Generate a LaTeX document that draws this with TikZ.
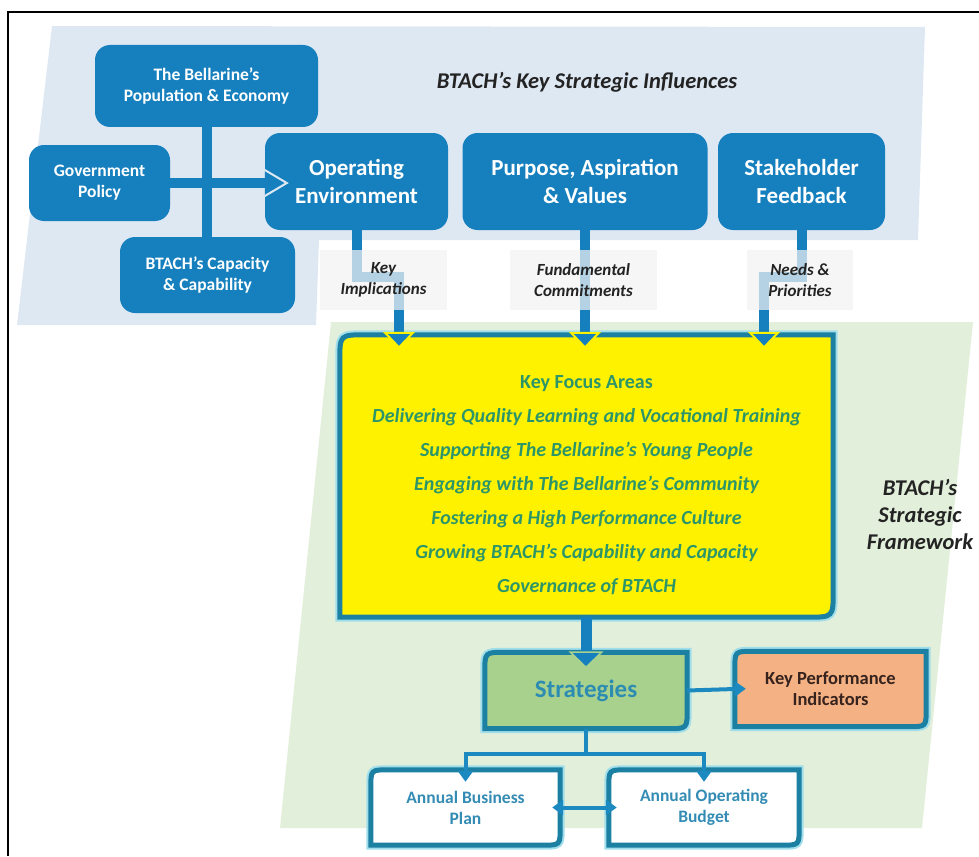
\documentclass[tikz,border=0pt]{standalone}
\usepackage{fontspec}
\setmainfont{Carlito}
\usetikzlibrary{arrows.meta,calc}
\definecolor{bbox}{RGB}{22,128,190}
\definecolor{bgblue}{RGB}{221,232,243}
\definecolor{bggreen}{RGB}{226,239,218}
\definecolor{labg}{RGB}{242,242,242}
\definecolor{labt}{RGB}{35,35,35}
\definecolor{teal}{RGB}{28,128,162}
\definecolor{halo}{RGB}{160,222,236}
\definecolor{ytext}{RGB}{45,150,105}
\definecolor{sfill}{RGB}{169,209,142}
\definecolor{stext}{RGB}{44,140,178}
\definecolor{kfill}{RGB}{244,177,131}
\definecolor{ktext}{RGB}{55,35,30}
\definecolor{btext}{RGB}{52,140,180}
\definecolor{tline}{RGB}{28,138,192}
\pgfdeclarelayer{back}
\pgfdeclarelayer{bg}
\pgfsetlayers{back,bg,main}
\newcommand\cutpath[3]{%
  \path[#2] ([yshift=-#3]#1.north west) .. controls (#1.north west) .. ([xshift=#3]#1.north west)
    -- (#1.north east) -- ([yshift=#3]#1.south east) .. controls (#1.south east) .. ([xshift=-#3]#1.south east)
    -- (#1.south west) -- cycle;}
\newcommand\cutbox[3]{%
  \begin{pgfonlayer}{bg}
  \cutpath{#1}{draw=halo,line width=9pt}{#3}
  \cutpath{#1}{fill=#2,draw=teal,line width=5pt}{#3}
  \end{pgfonlayer}}
\tikzset{
  bluebox/.style={fill=bbox, rounded corners=15pt, text=white, align=center, inner sep=0pt},
  lab/.style={fill=labg, fill opacity=0.72, text opacity=1, text=labt,
     font=\fontsize{17}{21}\selectfont\bfseries\itshape, align=center, inner sep=0pt, minimum height=60pt},
  bigarrow/.style={draw=bbox, line width=10pt,
     -{Triangle[length=17pt,width=32pt,color=yellow,fill=bbox,line width=2pt]}},
  thinline/.style={draw=tline, line width=4pt},
  thinarrow/.style={draw=tline, line width=4pt, -{Triangle[length=11pt,width=15pt]}},
  cutnode/.style={inner sep=0pt, align=center},
  heading/.style={text=labt, font=\fontsize{22.5}{27}\selectfont\bfseries\itshape, align=center}
}
\begin{document}
\begin{tikzpicture}[x=1pt,y=-1pt]
\useasboundingbox (0,0) rectangle (979,856);
% background regions
\begin{pgfonlayer}{back}
\fill[bgblue] (52,26) -- (925,27) -- (918,240) -- (319,240) -- (316,325) -- (17,325) -- cycle;
\fill[bggreen] (331,322) -- (973,322) -- (922,828) -- (280,828) -- cycle;
\draw[line width=2pt] (7.5,856) -- (7.5,12) -- (979,12);
\end{pgfonlayer}

% titles
\node[heading] (ttl) at (587,82) {BTACH’s Key Strategic Influences};
\node[heading] (fw) at (920,514) {BTACH’s\\Strategic\\Framework};

% blue influence boxes
\node[bluebox, minimum width=223pt, minimum height=82pt, font=\fontsize{17.5}{21}\selectfont\bfseries]
  (bel) at (206.5,86) {The Bellarine’s\\Population \& Economy};
\node[bluebox, minimum width=141pt, minimum height=76pt, font=\fontsize{17.5}{21}\selectfont\bfseries]
  (gov) at (99.5,183) {Government\\Policy};
\node[bluebox, minimum width=175pt, minimum height=76pt, font=\fontsize{17.5}{21}\selectfont\bfseries]
  (cap) at (207.5,275) {BTACH’s Capacity\\\& Capability};
\node[bluebox, minimum width=183pt, minimum height=97pt, font=\fontsize{23}{28}\selectfont\bfseries]
  (openv) at (356.5,181.5) {Operating\\Environment};
\node[bluebox, minimum width=245pt, minimum height=97pt, font=\fontsize{23}{28}\selectfont\bfseries]
  (purp) at (585,181.5) {Purpose, Aspiration\\\& Values};
\node[bluebox, minimum width=167pt, minimum height=97pt, font=\fontsize{23}{28}\selectfont\bfseries]
  (stake) at (801.5,181.5) {Stakeholder\\Feedback};

% influences wiring
\draw[draw=bbox, line width=10pt] (bel.south) -- (cap.north -| bel.south);
\coordinate (gh) at (gov.east -| openv.west);
\draw[draw=bbox, line width=10pt] (gov.east) -- (gh);
\fill[bbox] ([yshift=13pt]gh) -- ([xshift=22pt]gh) -- ([yshift=-13pt]gh) -- cycle;
\draw[draw=bgblue, line width=2pt, line join=miter] ([yshift=13pt]gh) -- ([xshift=22pt]gh) -- ([yshift=-13pt]gh);

% key focus areas
\node[minimum width=493pt, minimum height=282pt, inner sep=0pt] (yellow) at (586.5,476) {};
\cutbox{yellow}{yellow}{26pt}
\node[text=ytext, align=center, font=\fontsize{20}{34}\selectfont\bfseries] (kfa) at (586.5,485)
 {Key Focus Areas\\ \itshape Delivering Quality Learning and Vocational Training\\
  \itshape Supporting The Bellarine’s Young People\\
  \itshape Engaging with The Bellarine’s Community\\
  \itshape Fostering a High Performance Culture\\
  \itshape Growing BTACH’s Capability and Capacity\\
  \itshape Governance of BTACH};

% connectors into key focus areas
\coordinate (b1) at (399,277);
\coordinate (b3) at (764,277);
\draw[bigarrow, shorten >=-14pt] (openv.south) |- (b1) -- (yellow.north -| b1);
\draw[bigarrow, shorten >=-14pt] (purp.south) -- (yellow.north -| purp.south);
\draw[bigarrow, shorten >=-14pt] (stake.south) |- (b3) -- (yellow.north -| b3);

% labels
\node[lab, minimum width=127pt] (l1) at (383.5,280) {Key\\Implications};
\node[lab, minimum width=147pt] (l2) at (583.5,280) {Fundamental\\Commitments};
\node[lab, minimum width=106pt] (l3) at (800,280) {Needs \&\\Priorities};

% strategies and KPI
\node[cutnode, minimum width=202pt, minimum height=76pt, text=stext, font=\fontsize{25}{28}\selectfont\bfseries]
  (strat) at (586,690.5) {Strategies};
\cutbox{strat}{sfill}{20pt}
\node[cutnode, minimum width=191pt, minimum height=75pt, text=ktext, font=\fontsize{18.5}{21}\selectfont\bfseries]
  (kpi) at (830.5,689) {Key Performance\\Indicators};
\cutbox{kpi}{kfill}{18pt}
\draw[bigarrow, line width=11pt, -{Triangle[length=17pt,width=35pt,color=sfill,fill=bbox,line width=1.5pt]}, shorten >=-16pt]
  (yellow.south -| strat.north) -- (strat.north);
\draw[thinarrow, shorten >=-11pt] (strat.east) -- (kpi.west);

% plans
\node[cutnode, minimum width=189pt, minimum height=75pt, text=btext, font=\fontsize{17.5}{21}\selectfont\bfseries]
  (abp) at (465.5,807.5) {Annual Business\\Plan};
\cutbox{abp}{white}{18pt}
\node[cutnode, minimum width=190pt, minimum height=75pt, text=btext, font=\fontsize{17.5}{21}\selectfont\bfseries]
  (aob) at (704,807.5) {Annual Operating\\Budget};
\cutbox{aob}{white}{18pt}
\coordinate (b4) at (586,754);
\draw[thinline] (strat.south) -- (b4);
\draw[thinarrow, shorten >=-12pt] (b4) -| (abp.north);
\draw[thinarrow, shorten >=-12pt] (b4) -| (aob.north);
\draw[thinarrow, {Triangle[length=11pt,width=15pt]}-{Triangle[length=11pt,width=15pt]}, shorten >=-8pt, shorten <=-8pt]
  (abp.east) -- (aob.west);
\end{tikzpicture}
\end{document}
